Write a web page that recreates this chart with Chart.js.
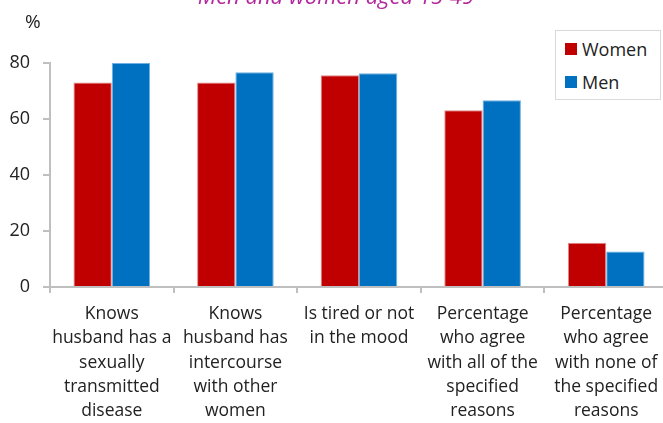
<!DOCTYPE html>
<html lang="en">

<head>
    <meta charset="UTF-8">
    <title>Reasons for refusing sex</title>
    <script src="https://cdn.jsdelivr.net/npm/chart.js"></script>
    <style>
        body { margin: 0; background: #fff; overflow: hidden; font-family: "Open Sans", sans-serif; }
        .wrap { position: relative; width: 663px; height: 423px; overflow: hidden; }
        .title { position: absolute; left: 0; width: 672px; top: -20px; text-align: center;
                 color: #b4279c; font-style: italic; font-size: 22px; }
        .unit { position: absolute; left: 25px; top: 8px; font-size: 19px; color: #222; }
        .legend { position: absolute; left: 555px; top: 30px; width: 104px; height: 68px;
                  border: 1px solid #d9d9d9; background: #fff; font-size: 18px; color: #222; }
        .legend div { position: absolute; left: 9px; display: flex; align-items: center; }
        .legend span { display: inline-block; width: 12px; height: 12px; margin-right: 5px; }
        #chart-box { position: absolute; left: 0; top: 0; width: 670px; height: 423px; }
    </style>
</head>

<body>
    <div class="wrap">
        <div id="chart-box"><canvas id="chart"></canvas></div>
        <div class="title">Men and women aged 15-49</div>
        <div class="unit">%</div>
        <div class="legend">
            <div style="top:6px"><span style="background:#c00000"></span>Women</div>
            <div style="top:39px"><span style="background:#0070c0"></span>Men</div>
        </div>
    </div>

    <script>
        // categories (multi-line labels)
        const categories = [
            ['Knows', 'husband has a', 'sexually', 'transmitted', 'disease'],
            ['Knows', 'husband has', 'intercourse', 'with other', 'women'],
            ['Is tired or not', 'in the mood'],
            ['Percentage', 'who agree', 'with all of the', 'specified', 'reasons'],
            ['Percentage', 'who agree', 'with none of', 'the specified', 'reasons']
        ];
        const women = [73, 73, 75.6, 63.1, 15.8];
        const men = [80, 76.7, 76.3, 66.7, 12.7];
        const yTicks = [0, 20, 40, 60, 80];

        const font = '"Open Sans", sans-serif';
        const axisColor = '#bfbfbf';

        new Chart(document.getElementById('chart'), {
            type: 'bar',
            data: {
                labels: categories,
                datasets: [
                    { label: 'Women', data: women, backgroundColor: '#c00000', borderColor: '#e08a8a', borderWidth: 1 },
                    { label: 'Men', data: men, backgroundColor: '#0070c0', borderColor: '#6fb0e0', borderWidth: 1 }
                ]
            },
            options: {
                responsive: true,
                maintainAspectRatio: false,
                animation: false,
                categoryPercentage: 0.62,
                barPercentage: 1,
                layout: { padding: { top: 63, right: 2, left: 0, bottom: 0 } },
                scales: {
                    y: {
                        min: 0,
                        max: 80,
                        afterBuildTicks: s => { s.ticks = yTicks.map(v => ({ value: v })); },
                        afterFit: s => { s.width = 50; },
                        border: { color: axisColor, width: 2 },
                        grid: { drawOnChartArea: false, color: axisColor, lineWidth: 2, tickLength: 7 },
                        ticks: { color: '#222', font: { family: font, size: 18 }, padding: 13 }
                    },
                    x: {
                        afterFit: s => { s.height = 136; },
                        border: { color: axisColor, width: 2 },
                        grid: { drawOnChartArea: false, color: axisColor, lineWidth: 2, tickLength: 6 },
                        ticks: { color: '#222', font: { family: font, size: 17.5, lineHeight: 1.39 }, padding: 9, maxRotation: 0, autoSkip: false }
                    }
                },
                plugins: {
                    legend: { display: false },
                    tooltip: { enabled: false }
                }
            }
        });
    </script>
</body>

</html>
